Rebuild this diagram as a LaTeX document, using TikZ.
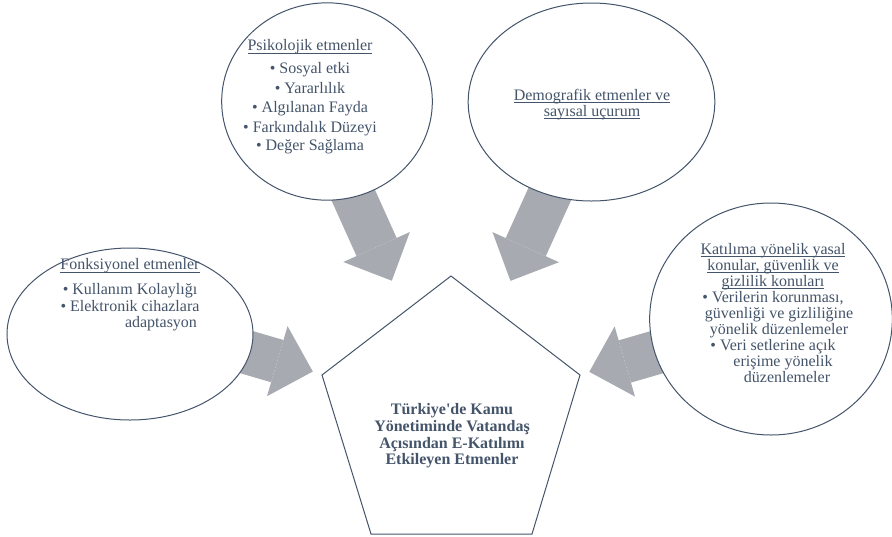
\documentclass[tikz,border=0pt]{standalone}
\usepackage{fontspec}
\setmainfont{Liberation Serif}
\usepackage{xcolor}
\usetikzlibrary{shapes.geometric, arrows.meta, backgrounds, calc}
\definecolor{slate}{HTML}{44546A}
\definecolor{arrowgray}{HTML}{A7AAB1}
\newcommand{\uln}[1]{\setbox0\hbox{#1}\rlap{\rule[-2pt]{\wd0}{0.6pt}}\box0}

\begin{document}
\begin{tikzpicture}[x=0.75pt, y=-0.75pt]
    \tikzstyle{factor} = [ellipse, draw=slate, line width=0.75pt, fill=white, inner sep=0pt, outer sep=0pt]
    \tikzstyle{factortext} = [align=center, text=slate, font=\rmfamily\fontsize{12}{12}\selectfont, inner sep=0pt]
    \tikzstyle{bigarrow} = [draw=arrowgray, line width=33pt, -{Triangle[length=27.75pt, width=54.75pt, line width=0pt]}, shorten >=108pt]

    \useasboundingbox (0,0) rectangle (892,536);

    % pentagon in the middle
    \coordinate (p1) at (451,276);
    \coordinate (p2) at (580,375);
    \coordinate (p3) at (532,534);
    \coordinate (p4) at (371,534);
    \coordinate (p5) at (322,375);
    \coordinate (hub) at (451,412);
    \draw[slate, line width=0.75pt] (p1) -- (p2) -- (p3) -- (p4) -- (p5) -- cycle;
    \node[factortext, font=\rmfamily\bfseries\fontsize{12}{12.5}\selectfont] (title) at (452,436)
        {Türkiye\textquotesingle de Kamu\\Yönetiminde Vatandaş\\Açısından E-Katılımı\\Etkileyen Etmenler};

    % factor ellipses
    \node[factor, minimum width=158pt, minimum height=148pt] (psiko) at (327,101.5) {};
    \node[factor, minimum width=185pt, minimum height=148.5pt] (demog) at (591.5,102) {};
    \node[factor, minimum width=184.5pt, minimum height=129pt] (fonks) at (130,334) {};
    \node[factor, minimum width=182pt, minimum height=174pt] (katil) at (771,319) {};

    \node[factortext] (psikotext) at (310,97)
        {\uln{Psikolojik etmenler}\\[5pt]
         \textbullet\ Sosyal etki\\[2.6pt]
         \textbullet\ Yararlılık\\[2.6pt]
         \textbullet\ Algılanan Fayda\\[2.6pt]
         \textbullet\ Farkındalık Düzeyi\\[2pt]
         \textbullet\ Değer Sağlama};
    \node[factortext] (demogtext) at (592,104.5)
        {\uln{Demografik etmenler ve}\\\uln{sayısal uçurum}};
    \node[factortext] (fonkstext) at (130,295)
        {\uln{Fonksiyonel etmenler}\\[6.75pt]
         \textbullet\ Kullanım Kolaylığı\\[0.75pt]
         \textbullet\ Elektronik cihazlara\\
         \hspace*{46.5pt}adaptasyon};
    \node[factortext] (kataltext) at (773,313)
        {\uln{Katılıma yönelik yasal}\\\uln{konular, güvenlik ve}\\\uln{gizlilik konuları}\\
         \textbullet\ Verilerin korunması,\\
         \hspace*{9pt}güvenliği ve gizliliğine\\
         \hspace*{9pt}yönelik düzenlemeler\\
         \textbullet\ Veri setlerine açık\\
         \hspace*{15pt}erişime yönelik\\
         \hspace*{21pt}düzenlemeler};

    % block arrows behind the ellipses
    \begin{scope}[on background layer]
        \draw[bigarrow] ([xshift=-12pt]psiko.center) -- (hub);
        \draw[bigarrow] (demog.center) -- (hub);
        \draw[bigarrow] ([yshift=12pt]fonks.center) -- (hub);
        \draw[bigarrow] (katil.center) -- (hub);
    \end{scope}
\end{tikzpicture}
\end{document}
